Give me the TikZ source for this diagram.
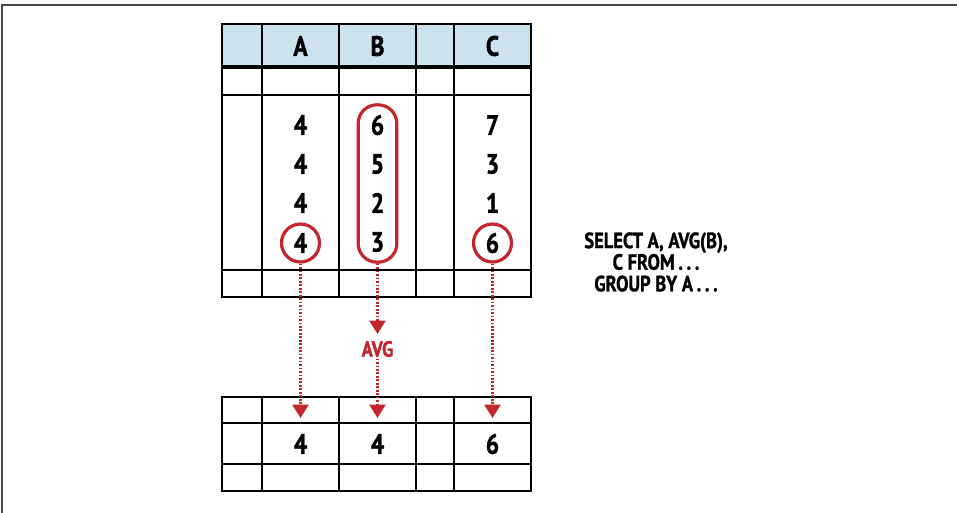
\documentclass[tikz,border=0pt]{standalone}
\usepackage{fontspec}
\setmainfont{PT Sans}[FakeStretch=0.84, BoldFeatures={FakeBold=1.3}]
\usetikzlibrary{arrows.meta}
\definecolor{hdr}{RGB}{204,226,239}
\definecolor{myred}{RGB}{196,38,46}
\definecolor{frame}{RGB}{70,70,70}
\tikzset{
  grid/.style={line width=1.6pt, black},
  thickgrid/.style={line width=3pt, black},
  val/.style={font=\fontsize{21}{21}\selectfont\bfseries, inner sep=0pt},
  hlab/.style={font=\fontsize{21}{21}\selectfont\bfseries, inner sep=0pt},
  ring/.style={circle, draw=myred, line width=2.4pt, minimum size=28.5pt, inner sep=0pt, font=\fontsize{21}{21}\selectfont\bfseries},
  oval/.style={draw=myred, line width=2.4pt, rounded corners=14pt, minimum width=29pt, minimum height=118pt, inner sep=0pt},
  dotarrow/.style={myred, line width=1.6pt, dash pattern=on 1.3pt off 1.3pt, -{Triangle[width=12pt,length=10pt,sep=0pt]}, shorten >=0pt},
  sql/.style={font=\fontsize{16.5}{16.2}\selectfont\bfseries, align=center, inner sep=0pt},
}
\begin{document}
\begin{tikzpicture}[x=0.75pt,y=-0.75pt]
\useasboundingbox (0,0) rectangle (957,513);
\draw[frame, line width=1.5pt] (2,513) -- (2,5) -- (957,5);

% top table
\fill[hdr] (222,24) rectangle (531,67);
\foreach \x in {262,339,416,454} \draw[grid] (\x,24) -- (\x,297);
\foreach \y in {95,270} \draw[grid] (222,\y) -- (531,\y);
\draw[thickgrid] (222,67) -- (531,67);
\draw[grid] (222,24) rectangle (531,297);

\node[hlab] (hA) at (300.5,46) {A};
\node[hlab] (hB) at (377.5,46) {B};
\node[hlab] (hC) at (492.5,46) {C};

\node[val] (a1) at (300.5,125) {4};
\node[val] (a2) at (300.5,164) {4};
\node[val] (a3) at (300.5,203) {4};
\node[ring] (cA) at (300.5,243) {4};

\node[val] (b1) at (377.5,125) {6};
\node[val] (b2) at (377.5,164) {5};
\node[val] (b3) at (377.5,203) {2};
\node[val] (b4) at (377.5,242) {3};
\node[oval] (ovB) at (377.5,183.5) {};

\node[val] (c1) at (492.5,125) {7};
\node[val] (c2) at (492.5,164) {3};
\node[val] (c3) at (492.5,203) {1};
\node[ring] (cC) at (492.5,243) {6};

% bottom table
\foreach \x in {262,339,416,454} \draw[grid] (\x,397) -- (\x,491);
\foreach \y in {423,464} \draw[grid] (222,\y) -- (531,\y);
\draw[grid] (222,397) rectangle (531,491);

\node[val] (rA) at (300.5,444) {4};
\node[val] (rB) at (377.5,444) {4};
\node[val] (rC) at (492.5,444) {6};

\coordinate (tA) at (300.5,418);
\coordinate (tB) at (377.5,418);
\coordinate (tC) at (492.5,418);
\coordinate (tAvg) at (377.5,334);

\node[font=\fontsize{16.5}{16.5}\selectfont\bfseries, text=myred, inner sep=1pt] (avg) at (377.5,349) {AVG};

\draw[dotarrow] (cA.south) -- (tA);
\draw[dotarrow] (cC.south) -- (tC);
\draw[dotarrow] (ovB.south) -- (tAvg);
\draw[dotarrow] (avg.south) -- (tB);

\node[sql] (q) at (656,262) {SELECT A, AVG(B),\\C FROM\,.\,.\,.\\GROUP BY A\,.\,.\,.};
\end{tikzpicture}
\end{document}
